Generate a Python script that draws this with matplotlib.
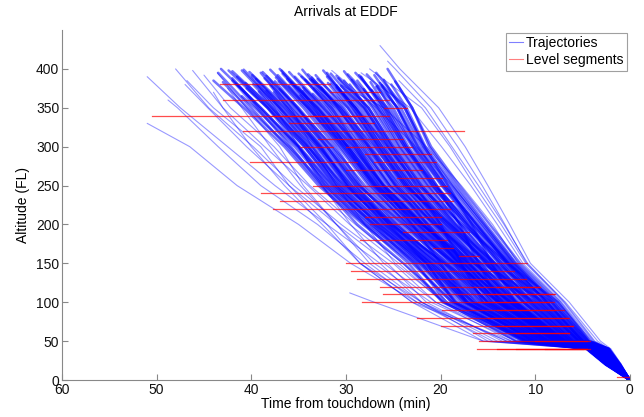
import matplotlib
matplotlib.use('Agg')
import matplotlib.pyplot as plt
from matplotlib.lines import Line2D

# ---------------- data ----------------
TITLE = 'Arrivals at EDDF'
X_LABEL = 'Time from touchdown (min)'
Y_LABEL = 'Altitude (FL)'
X_TICKS = [60, 50, 40, 30, 20, 10, 0]
Y_TICKS = [0, 50, 100, 150, 200, 250, 300, 350, 400]

# altitude grid (FL) at which trajectory times are read
GRID_ALT = [400, 350, 300, 250, 200, 150, 100, 50, 40, 20]
TOUCHDOWN_T = 0.0
TOUCHDOWN_ALT = 0.0

# each trajectory: (start altitude, start time, times at grid altitudes below start)
TRAJ_CORE = [
    (395, 43.5, [40.0, 36.2, 32.6, 28.8, 23.9, 19.6, 12.0, 4.6, 2.6]),
    (385, 42.0, [39.4, 35.8, 32.5, 28.0, 23.4, 19.8, 11.2, 4.4, 2.5]),
    (400, 43.2, [39.0, 35.0, 32.2, 27.9, 22.6, 19.4, 11.0, 4.5, 2.5]),
    (375, 40.5, [38.3, 34.9, 31.4, 27.2, 22.8, 18.8, 11.1, 4.3, 2.4]),
    (390, 41.5, [38.2, 34.4, 31.1, 26.8, 22.0, 18.6, 10.6, 4.2, 2.5]),
    (398, 41.0, [37.2, 33.9, 30.9, 26.5, 21.5, 18.4, 10.5, 4.1, 2.3]),
    (380, 39.4, [37.0, 33.5, 30.5, 26.2, 21.4, 17.6, 10.3, 4.2, 2.3]),
    (392, 39.9, [36.5, 32.7, 29.8, 25.9, 21.1, 17.3, 10.1, 4.0, 2.2]),
    (370, 37.6, [36.0, 32.6, 29.7, 25.0, 20.6, 17.2, 9.8, 3.9, 2.3]),
    (388, 38.6, [35.6, 32.2, 28.9, 25.1, 20.2, 16.4, 9.6, 3.8, 2.2]),
    (396, 38.8, [35.0, 31.5, 28.5, 24.6, 20.0, 16.2, 9.4, 3.7, 2.1]),
    (384, 37.1, [34.5, 31.1, 28.3, 23.8, 19.6, 15.8, 9.1, 3.7, 2.0]),
    (378, 36.0, [33.9, 30.6, 27.4, 23.6, 19.3, 15.5, 8.8, 3.7, 2.0]),
    (394, 36.7, [33.4, 30.3, 27.0, 23.1, 18.6, 15.1, 8.7, 3.5, 2.0]),
    (372, 34.5, [32.9, 29.8, 26.6, 22.6, 18.5, 14.6, 8.4, 3.4, 1.9]),
    (390, 35.4, [32.3, 29.1, 26.4, 22.3, 18.0, 14.4, 8.2, 3.4, 1.8]),
    (386, 34.3, [31.8, 28.8, 25.7, 21.8, 17.9, 14.0, 8.0, 3.4, 1.8]),
    (399, 34.6, [31.3, 28.2, 25.4, 21.4, 17.4, 13.6, 7.8, 3.2, 1.7]),
    (376, 32.6, [30.8, 28.0, 24.9, 21.1, 17.0, 13.3, 7.5, 3.2, 1.7]),
    (392, 33.2, [30.2, 27.3, 24.4, 20.8, 16.8, 12.9, 7.3, 3.0, 1.6]),
    (382, 31.9, [29.8, 26.9, 24.0, 20.2, 16.4, 12.6, 7.1, 3.0, 1.6]),
    (395, 32.0, [29.3, 26.6, 23.6, 19.9, 16.0, 12.1, 6.9, 2.9, 1.5]),
    (370, 30.2, [28.8, 26.0, 23.2, 19.5, 15.7, 11.9, 6.7, 2.8, 1.5]),
    (388, 30.8, [28.2, 25.5, 22.8, 19.1, 15.3, 11.5, 6.5, 2.7, 1.4]),
    (380, 29.6, [27.8, 25.2, 22.2, 18.7, 14.9, 11.0, 6.3, 2.7, 1.4]),
    (397, 30.2, [27.2, 24.7, 21.7, 18.3, 14.6, 10.6, 6.0, 2.6, 1.3]),
    (374, 28.1, [26.7, 24.3, 21.3, 17.9, 14.2, 10.3, 5.9, 2.6, 1.3]),
    (390, 28.4, [26.2, 23.8, 20.9, 17.5, 13.8, 9.9, 5.6, 2.5, 1.2]),
    (383, 27.4, [25.7, 23.4, 20.4, 17.1, 13.5, 9.5, 5.4, 2.4, 1.2]),
    (378, 26.7, [25.3, 22.9, 19.9, 16.6, 13.1, 9.1, 5.2, 2.4, 1.1]),
    (392, 27.0, [24.6, 22.4, 19.6, 16.1, 12.8, 8.7, 5.0, 2.4, 1.1]),
    (386, 26.0, [24.2, 22.0, 19.1, 15.8, 12.4, 8.3, 4.8, 2.4, 1.1]),
    (380, 25.2, [23.6, 21.6, 18.6, 15.4, 12.1, 8.0, 4.5, 2.3, 1.1]),
    (400, 25.6, [23.0, 21.0, 18.0, 14.8, 11.6, 7.4, 4.2, 2.2, 1.0]),
    (388, 42.0, [39.2, 35.1, 31.8, 27.0, 21.5, 16.5, 9.0, 3.8, 2.2]),
    (380, 39.8, [37.5, 33.6, 30.2, 25.3, 19.5, 13.8, 7.6, 3.2, 1.8]),
    (395, 39.0, [35.8, 32.0, 28.7, 23.9, 18.5, 12.5, 7.0, 3.0, 1.6]),
    (392, 37.2, [34.0, 30.2, 26.8, 22.0, 16.5, 10.0, 5.4, 2.5, 1.3]),
    (376, 34.5, [32.4, 28.6, 25.4, 20.6, 15.6, 9.0, 5.0, 2.4, 1.2]),
    (386, 33.6, [30.6, 27.0, 23.8, 19.0, 14.2, 8.3, 4.6, 2.3, 1.1]),
    (398, 32.4, [29.0, 25.6, 22.3, 17.7, 12.9, 7.6, 4.3, 2.2, 1.1]),
    (384, 37.5, [35.1, 32.0, 29.0, 25.5, 21.5, 18.5, 10.8, 4.3, 2.3]),
    (390, 34.7, [31.5, 28.8, 26.1, 23.0, 20.0, 17.2, 10.2, 4.1, 2.3]),
    (378, 30.5, [28.1, 25.2, 22.6, 20.0, 17.8, 15.5, 9.0, 3.7, 2.1]),
    (395, 29.0, [25.6, 23.0, 20.4, 18.0, 16.0, 13.8, 7.8, 3.4, 1.8]),
    (382, 26.4, [23.8, 21.7, 19.2, 16.7, 14.6, 12.1, 6.8, 3.0, 1.6]),
    (372, 38.4, [36.6, 32.8, 29.5, 24.9, 19.6, 14.8, 8.2, 3.4, 1.9]),
    (400, 37.0, [33.2, 29.8, 26.5, 22.0, 17.0, 12.6, 7.1, 3.1, 1.6]),
    (387, 33.0, [29.8, 26.7, 23.6, 19.4, 14.9, 10.6, 6.1, 2.7, 1.4]),
    (393, 29.8, [26.4, 23.8, 20.6, 16.7, 12.7, 8.8, 5.0, 2.4, 1.2]),
    (398, 42.4, [38.3, 34.4, 31.2, 26.4, 21.2, 17.3, 10.2, 4.1, 2.3]),
    (385, 44.0, [40.8, 36.5, 32.9, 28.2, 23.0, 18.8, 11.0, 4.4, 2.5]),
    (365, 41.0, [39.6, 35.4, 31.9, 27.4, 22.2, 17.8, 10.4, 4.1, 2.3]),
    (382, 40.6, [38.0, 34.0, 30.6, 26.0, 20.8, 16.0, 9.2, 3.8, 2.1]),
    (396, 40.2, [36.2, 32.5, 29.2, 24.6, 19.8, 15.2, 8.6, 3.5, 2.0]),
    (374, 37.0, [35.2, 31.4, 28.0, 23.4, 18.8, 14.2, 8.0, 3.3, 1.8]),
    (389, 37.4, [34.2, 30.8, 27.6, 23.3, 18.4, 13.8, 7.7, 3.1, 1.8]),
    (368, 33.5, [32.0, 29.0, 26.0, 22.0, 17.6, 13.4, 7.4, 3.1, 1.7]),
    (394, 35.0, [31.0, 27.8, 24.7, 20.5, 16.2, 12.2, 6.8, 2.9, 1.6]),
    (379, 31.0, [29.0, 26.2, 23.0, 19.0, 15.0, 11.2, 6.2, 2.8, 1.4]),
    (391, 31.0, [27.6, 25.0, 22.0, 18.4, 14.4, 10.4, 5.8, 2.6, 1.3]),
    (385, 28.8, [26.6, 24.0, 21.0, 17.2, 13.6, 9.6, 5.4, 2.5, 1.2]),
    (377, 26.8, [25.0, 22.8, 19.8, 16.4, 12.9, 8.8, 4.9, 2.4, 1.1]),
    (387, 33.8, [30.6, 27.6, 24.8, 21.4, 18.2, 14.6, 8.6, 3.5, 1.9]),
    (393, 27.8, [24.5, 22.3, 19.4, 16.2, 13.0, 9.3, 5.2, 2.5, 1.1]),
    (383, 35.8, [33.0, 29.6, 26.2, 21.8, 17.2, 12.8, 7.4, 3.1, 1.7]),
    (399, 38.0, [34.0, 30.4, 27.2, 22.8, 18.2, 13.6, 7.6, 3.1, 1.7]),
    (383, 43.0, [40.4, 36.0, 32.2, 27.6, 22.4, 18.2, 10.8, 4.3, 2.4]),
    (371, 39.2, [37.8, 34.2, 30.8, 26.6, 21.8, 17.0, 9.9, 4.0, 2.3]),
    (397, 42.0, [37.8, 34.0, 30.2, 25.6, 20.4, 16.6, 9.5, 3.9, 2.2]),
    (379, 38.0, [36.2, 32.9, 29.4, 25.4, 20.9, 16.9, 9.7, 3.9, 2.2]),
    (391, 38.4, [35.3, 31.8, 28.6, 24.2, 19.2, 15.0, 8.5, 3.6, 2.0]),
    (366, 34.8, [33.6, 30.0, 27.1, 23.0, 18.9, 15.0, 8.6, 3.6, 2.0]),
    (387, 36.2, [33.7, 30.0, 26.9, 22.4, 17.8, 13.9, 7.9, 3.4, 1.9]),
    (396, 36.0, [32.6, 29.4, 26.0, 21.9, 17.6, 13.2, 7.6, 3.3, 1.8]),
    (375, 33.4, [31.6, 28.4, 25.2, 21.3, 17.2, 12.7, 7.2, 3.1, 1.7]),
    (389, 33.6, [30.9, 27.6, 24.6, 20.7, 16.6, 12.4, 7.0, 3.0, 1.6]),
    (381, 31.6, [29.5, 26.4, 23.4, 19.7, 15.8, 11.8, 6.6, 2.9, 1.5]),
    (394, 31.6, [28.5, 25.8, 23.0, 19.3, 15.2, 11.3, 6.4, 2.8, 1.4]),
    (369, 29.0, [27.6, 25.0, 22.0, 18.5, 14.7, 10.8, 6.1, 2.7, 1.4]),
    (386, 29.4, [27.0, 24.4, 21.4, 17.9, 14.3, 10.2, 5.8, 2.6, 1.3]),
    (392, 28.6, [25.9, 23.6, 20.8, 17.3, 13.8, 9.8, 5.5, 2.5, 1.2]),
    (379, 26.2, [24.6, 22.6, 19.6, 16.2, 12.6, 8.6, 4.9, 2.4, 1.1]),
    (395, 26.8, [23.8, 21.8, 18.8, 15.6, 12.3, 8.2, 4.6, 2.3, 1.1]),
    (384, 24.8, [23.0, 21.2, 18.3, 15.2, 12.0, 7.8, 4.4, 2.2, 1.0]),
    (399, 40.8, [37.0, 33.2, 29.9, 25.2, 20.3, 15.6, 8.9, 3.7, 2.1]),
    (377, 35.0, [33.3, 29.8, 26.8, 22.4, 18.0, 14.0, 8.0, 3.4, 1.9]),
    (390, 32.0, [29.0, 26.2, 23.4, 20.0, 16.2, 12.3, 7.0, 3.1, 1.7]),
    (385, 30.2, [28.0, 25.5, 22.5, 18.8, 15.2, 11.2, 6.4, 2.9, 1.5]),
    (373, 27.3, [26.0, 23.6, 20.6, 17.0, 13.3, 9.4, 5.3, 2.5, 1.2]),
    (398, 36.8, [33.0, 29.2, 26.0, 21.6, 17.5, 13.4, 7.5, 3.3, 1.8]),
    (381, 41.6, [39.0, 35.0, 31.5, 27.0, 22.0, 17.4, 10.0, 4.0, 2.3]),
    (393, 34.0, [30.4, 27.5, 24.2, 20.3, 16.4, 12.0, 6.8, 3.0, 1.6]),
    (387, 39.5, [36.9, 33.0, 29.9, 25.8, 21.0, 16.6, 9.4, 3.8, 2.2]),
    (376, 31.0, [29.2, 26.5, 23.8, 20.4, 17.0, 13.0, 7.4, 3.2, 1.7]),
]

TRAJ_LEFT = [
    (400, 48.0, [44.5, 39.8, 35.5, 30.5, 25.0, 20.5, 12.5, 4.6, 2.6]),
    (398, 46.2, [43.0, 38.6, 34.0, 29.6, 24.4, 19.8, 12.0, 4.6, 2.6]),
    (392, 45.0, [42.2, 37.6, 33.8, 29.0, 24.0, 19.2, 11.4, 4.5, 2.5]),
    (380, 47.0, [44.6, 40.5, 36.0, 31.0, 25.6, 21.5, 13.5, 4.6, 2.6]),
    (390, 51.0, [47.5, 42.5, 37.5, 32.0, 26.4, 22.0, 14.0, 4.6, 2.6]),
    (330, 51.0, [46.5, 41.5, 35.0, 29.5, 22.5, 13.0, 4.6, 2.6]),
    (360, 48.8, [47.8, 43.5, 39.0, 33.0, 28.0, 22.5, 14.5, 4.6, 2.6]),
    (395, 43.6, [40.5, 37.0, 34.5, 31.0, 27.5, 22.0, 15.0, 4.6, 2.6]),
    (112, 29.6, [27.0, 15.5, 4.6, 2.6]),
    (370, 44.0, [43.0, 40.0, 36.5, 32.5, 28.5, 22.0, 13.0, 4.6, 2.6]),
    (385, 46.8, [44.0, 39.0, 36.0, 32.0, 28.5, 23.0, 15.5, 4.6, 2.6]),
    (375, 42.5, [41.0, 38.0, 34.8, 31.0, 27.0, 21.0, 12.0, 4.6, 2.6]),
    (390, 40.0, [37.5, 35.0, 32.5, 29.5, 26.0, 20.5, 11.5, 4.5, 2.5]),
    (385, 38.0, [35.8, 33.6, 31.0, 28.0, 24.8, 19.6, 10.8, 4.4, 2.5]),
    (150, 28.5, [23.0, 12.5, 4.5, 2.5]),
]

TRAJ_RIGHT = [
    (430, 26.4, [24.3, 20.2, 17.4, 15.0, 12.7, 10.5, 6.4, 3.1, 2.0, 0.9]),
    (410, 25.6, [24.8, 21.0, 18.2, 15.6, 13.2, 10.9, 6.8, 3.4, 2.2, 1.0]),
    (400, 27.5, [22.0, 19.0, 16.4, 13.6, 11.0, 7.0, 3.8, 2.3, 1.0]),
    (395, 28.4, [23.2, 19.9, 16.8, 14.0, 11.3, 7.2, 3.9, 2.4, 1.1]),
    (385, 24.4, [21.6, 18.8, 16.0, 13.3, 10.8, 6.9, 3.7, 2.2, 1.0]),
    (380, 30.6, [26.0, 21.5, 17.8, 14.5, 11.8, 7.6, 4.0, 2.4, 1.1]),
    (398, 31.5, [26.8, 22.6, 18.8, 15.4, 12.3, 8.0, 4.3, 2.5, 1.1]),
]

# level segments: altitude (FL), start time, end time (min before touchdown)
LEVEL_ALT = [380, 370, 360, 360, 350, 340, 340, 330, 320, 310, 300, 300, 290,
             280, 280, 270, 260, 250, 240, 230, 220, 210, 200, 190, 180, 170,
             160, 150, 140, 130, 120, 110, 100, 90, 80, 70, 60, 50, 40, 40, 40, 4,
             120, 110, 100, 90, 80, 70, 60, 50, 40]
LEVEL_T_START = [43.3, 31.7, 43.0, 30.0, 26.0, 50.5, 38.0, 36.0, 40.9, 33.0, 34.9, 30.0, 28.0,
                 40.1, 27.0, 30.0, 24.6, 33.5, 39.0, 37.0, 37.7, 28.0, 27.5, 24.0, 28.5, 20.8,
                 18.0, 30.0, 29.5, 28.8, 26.4, 26.1, 28.3, 19.8, 22.5, 20.0, 16.6, 15.9, 16.2, 12.0, 9.0, 1.4,
                 14.0, 15.0, 16.0, 14.0, 15.0, 14.0, 12.0, 10.0, 14.0]
LEVEL_T_END = [31.7, 26.4, 30.0, 25.5, 23.5, 25.5, 28.0, 27.0, 17.5, 24.0, 31.4, 23.0, 21.0,
               28.8, 20.5, 22.0, 19.8, 19.3, 19.0, 18.7, 19.0, 20.0, 20.0, 17.0, 19.3, 18.7,
               15.9, 10.9, 12.2, 11.0, 9.5, 7.9, 8.5, 7.9, 6.4, 6.0, 6.4, 4.2, 4.2, 5.0, 4.5, 0.0,
               9.5, 8.0, 8.0, 7.0, 6.5, 6.0, 6.4, 4.5, 4.5]

LEGEND_LABELS = ['Trajectories', 'Level segments']

# ---------------- drawing ----------------
plt.rcParams['font.family'] = ['Liberation Sans', 'DejaVu Sans']
plt.rcParams['font.size'] = 10

fig = plt.figure(figsize=(6.44, 4.17), dpi=100)
ax = fig.add_axes([0.0963, 0.0887, 0.8817, 0.8393])

TRAJ_COLOR = '#0000ff'
LEVEL_COLOR = '#ff0000'


def draw_traj(traj, lw, alpha):
    for a0, t0, ts in traj:
        alts = [a0] + [g for g in GRID_ALT if g < a0]
        alts = alts[:len(ts) + 1] + [TOUCHDOWN_ALT]
        times = [t0] + list(ts) + [TOUCHDOWN_T]
        ax.plot(times, alts, color=TRAJ_COLOR, lw=lw, alpha=alpha,
                solid_capstyle='round', solid_joinstyle='round')


draw_traj(TRAJ_LEFT, 0.8, 0.4)
draw_traj(TRAJ_RIGHT, 0.8, 0.4)
draw_traj(TRAJ_CORE, 1.8, 0.55)

for a, t0, t1 in zip(LEVEL_ALT, LEVEL_T_START, LEVEL_T_END):
    ax.plot([t0, t1], [a, a], color=LEVEL_COLOR, lw=0.9, alpha=0.7)

ax.set_xlim(60, 0)
ax.set_ylim(0, 450)
ax.set_xticks(X_TICKS)
ax.set_yticks(Y_TICKS)
ax.spines['top'].set_visible(False)
ax.spines['right'].set_visible(False)
for s in ('left', 'bottom'):
    ax.spines[s].set_color('#888888')
    ax.spines[s].set_linewidth(0.8)
ax.tick_params(direction='in', length=4, width=0.8, color='#888888',
               labelsize=10, labelcolor='#111111', pad=2)

ax.set_title(TITLE, fontsize=10, pad=10)
ax.set_xlabel(X_LABEL, fontsize=10, labelpad=0)
ax.set_ylabel(Y_LABEL, fontsize=10, labelpad=4)

handles = [Line2D([0], [0], color=TRAJ_COLOR, lw=0.8, alpha=0.5),
           Line2D([0], [0], color=LEVEL_COLOR, lw=0.8, alpha=0.5)]
leg = ax.legend(handles, LEGEND_LABELS, loc='upper right', fontsize=10,
                frameon=True, fancybox=False, handlelength=1.0,
                handletextpad=0.2, borderpad=0.25, labelspacing=0.2,
                borderaxespad=0.2)
leg.get_frame().set_edgecolor('#888888')
leg.get_frame().set_linewidth(0.8)

fig.savefig('out.png', dpi=100)
